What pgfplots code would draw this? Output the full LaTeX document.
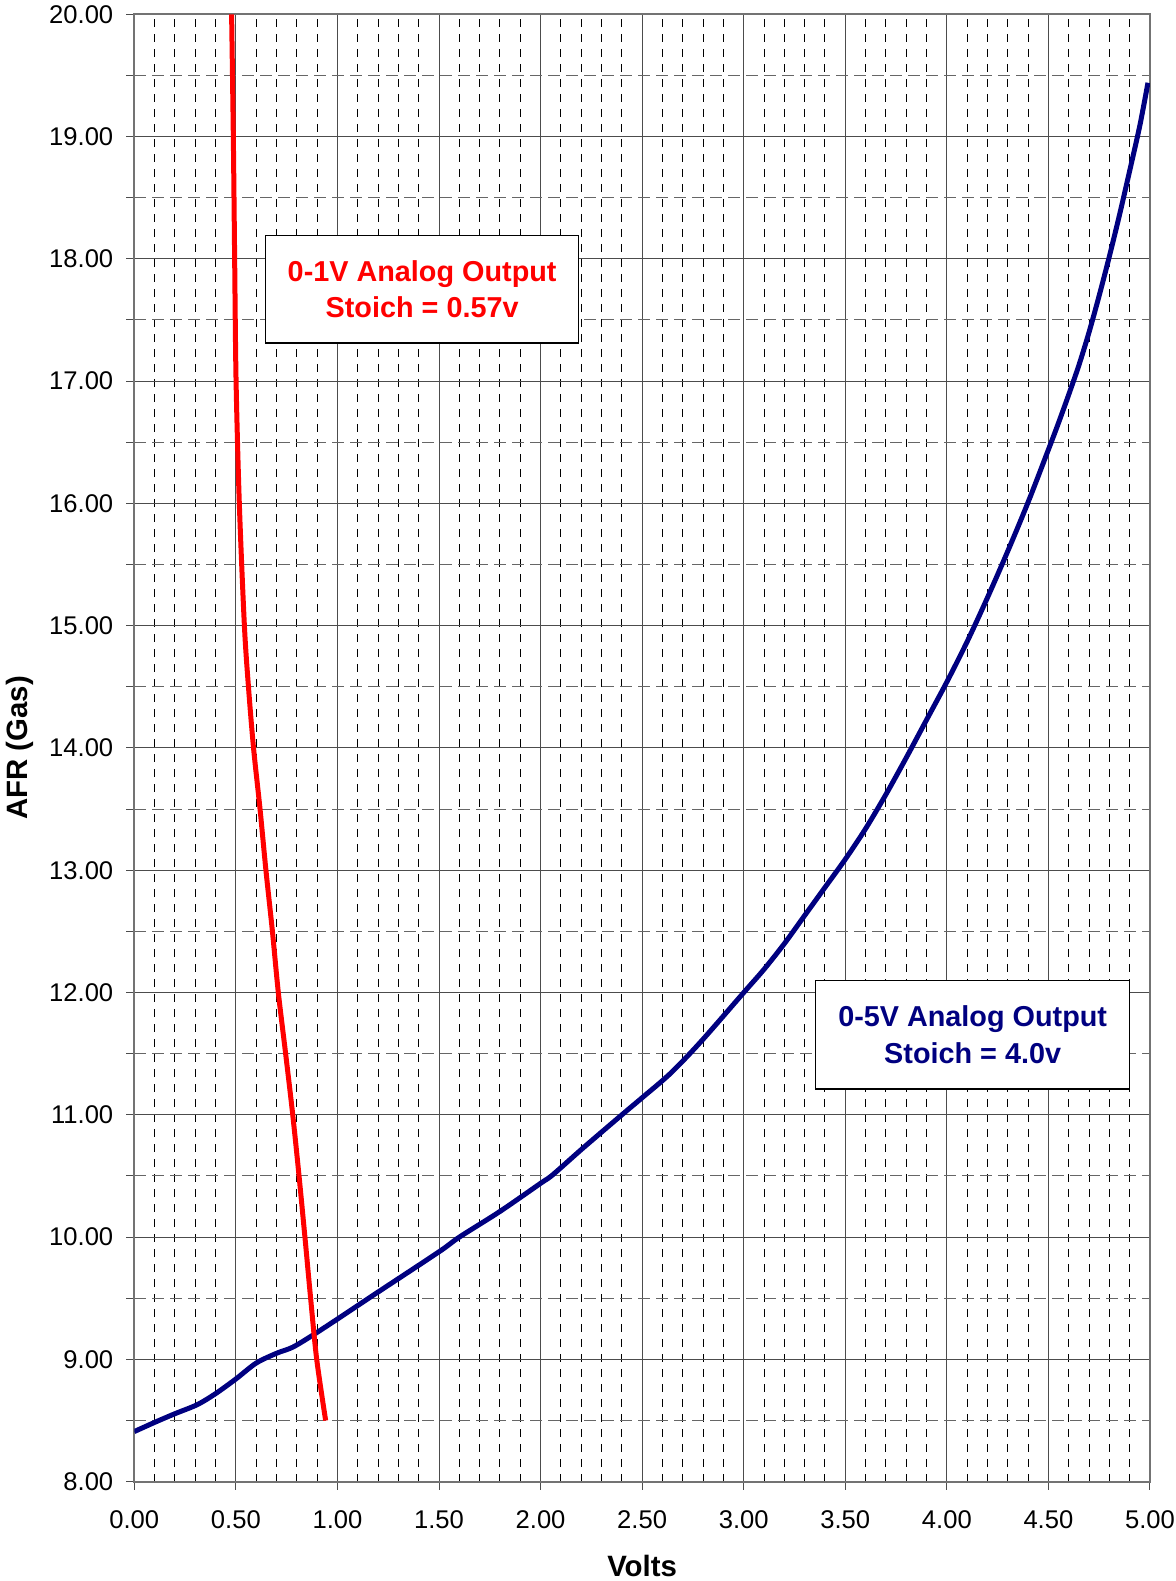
\documentclass[border=0pt]{standalone}
\usepackage{fontspec}
\setmainfont{Liberation Sans}
\usepackage{pgfplots}
\pgfplotsset{compat=1.18}
\definecolor{navy}{RGB}{0,0,128}
\definecolor{pureRed}{RGB}{255,0,0}
\begin{document}
\begin{tikzpicture}[x=1pt,y=1pt]
\useasboundingbox (0,0) rectangle (588,790.5);
\begin{axis}[
  at={(67.15pt,49.65pt)}, anchor=south west,
  scale only axis, width=507.85pt, height=733.7pt,
  xmin=0, xmax=5, ymin=8, ymax=20,
  xtick={0,0.5,1,1.5,2,2.5,3,3.5,4,4.5,5},
  ytick={8,9,10,11,12,13,14,15,16,17,18,19,20},
  minor x tick num=4, minor y tick num=1,
  grid=both,
  major grid style={draw=black!70, line width=0.5pt, solid},
  minor x grid style={draw=black, line width=0.5pt, dash pattern=on 4pt off 3.5pt},
  minor y grid style={draw=black!60, line width=0.5pt, dash pattern=on 6pt off 3pt},
  tick align=outside, tick pos=left,
  major tick length=4pt, minor tick length=4pt,
  tick style={draw=black!70, line width=0.5pt},
  minor x tick style={draw=none},
  axis line style={draw=black!55, line width=1pt},
  /pgf/number format/assume math mode=true,
  /pgf/number format/fixed, /pgf/number format/fixed zerofill, /pgf/number format/precision=2,
  ticklabel style={font=\fontsize{12.8}{15}\selectfont},
  xticklabel style={yshift=-7pt},
  yticklabel style={xshift=-3pt},
  xlabel={Volts},
  xlabel style={font=\bfseries\fontsize{14.7}{17}\selectfont, at={(axis description cs:0.5,0)}, anchor=center, yshift=-42pt},
  ylabel={AFR (Gas)},
  ylabel style={font=\bfseries\fontsize{14.7}{17}\selectfont, at={(axis description cs:0,0.5)}, anchor=center, yshift=57pt},
  clip=true,
]
\addplot[navy, line width=2.5pt, smooth, tension=0.5] coordinates {
(0,8.41) (0.10,8.485) (0.20,8.556) (0.31,8.63) (0.40,8.72) (0.50,8.84)
(0.60,8.97) (0.70,9.05) (0.78,9.10) (0.88,9.20) (1.0,9.33) (1.19,9.54)
(1.5,9.88) (1.6,10.0) (1.8,10.21) (2.0,10.44) (2.06,10.51) (2.21,10.73)
(2.40,11.0) (2.5,11.14) (2.64,11.34) (2.79,11.6) (3.0,12.0) (3.1,12.19)
(3.2,12.40) (3.3,12.63) (3.4,12.86) (3.5,13.09) (3.6,13.34) (3.7,13.62)
(3.8,13.92) (3.9,14.23) (4.0,14.54) (4.1,14.87) (4.2,15.23) (4.3,15.61)
(4.4,16.01) (4.5,16.44) (4.55,16.66) (4.6,16.89) (4.65,17.13) (4.7,17.40)
(4.75,17.70) (4.8,18.02) (4.85,18.36) (4.9,18.72) (4.95,19.09) (4.99,19.44)
};
\addplot[pureRed, line width=2.5pt, smooth, tension=0.5] coordinates {
(0.479,20.0) (0.4875,19.0) (0.494,18.0) (0.501,17.0) (0.517,16.0)
(0.542,15.0) (0.562,14.5) (0.587,14.0) (0.619,13.5) (0.648,13.0)
(0.680,12.5) (0.709,12.0) (0.745,11.5) (0.780,11.0) (0.811,10.5)
(0.840,10.0) (0.868,9.5) (0.898,9.0) (0.942,8.5)
};
\node[draw=black, line width=0.6pt, fill=white, minimum width=156.3pt, minimum height=53.65pt,
  align=center, text=pureRed, font=\bfseries\fontsize{14.4}{18.2}\selectfont, inner sep=0pt]
  at (axis cs:1.417,17.75) {0-1V Analog Output\\Stoich = 0.57v};
\node[draw=black, line width=0.6pt, fill=white, minimum width=156.8pt, minimum height=54.3pt,
  align=center, text=navy, font=\bfseries\fontsize{14.4}{18.2}\selectfont, inner sep=0pt]
  at (axis cs:4.127,11.655) {0-5V Analog Output\\Stoich = 4.0v};
\end{axis}
\end{tikzpicture}
\end{document}
